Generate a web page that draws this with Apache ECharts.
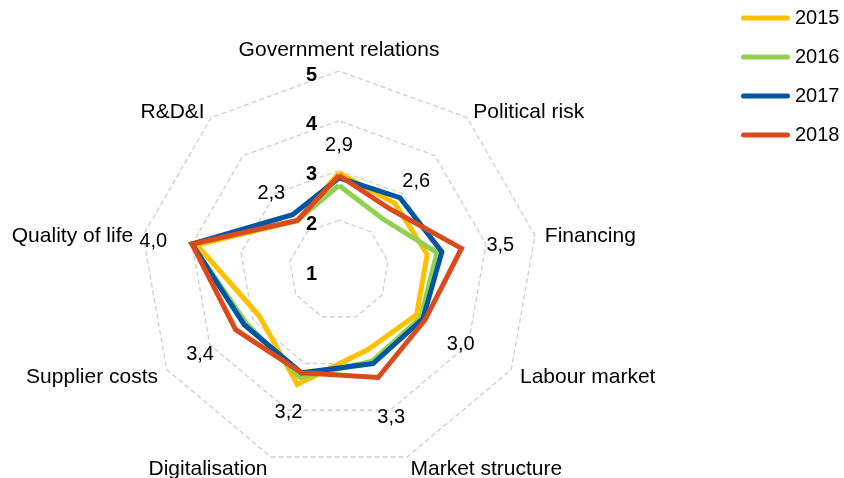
<!DOCTYPE html>
<html>
<head>
<meta charset="utf-8">
<style>
    html, body { margin: 0; padding: 0; background: #ffffff; }
    #chart { width: 844px; height: 478px; }
</style>
<script src="https://cdn.jsdelivr.net/npm/echarts@6/dist/echarts.min.js"></script>
</head>
<body>
<div id="chart"></div>
<script>
// categories listed clockwise from the top, as in the source chart
const indicators = [
    'Government relations', 'Political risk', 'Financing', 'Labour market', 'Market structure',
    'Digitalisation', 'Supplier costs', 'Quality of life', 'R&D&I',
];
const years = ['2015', '2016', '2017', '2018'];
const values2015 = [2.95, 2.75, 2.8, 2.8, 2.7, 3.45, 2.85, 3.9, 2.3];
const values2016 = [2.7, 2.35, 3.0, 2.9, 2.95, 3.3, 3.15, 4.0, 2.3];
const values2017 = [2.85, 2.9, 3.1, 2.95, 3.0, 3.2, 3.2, 4.0, 2.45];
const values2018 = [2.9, 2.6, 3.5, 3.0, 3.3, 3.2, 3.4, 4.0, 2.3];
const scaleMin = 1;
const scaleMax = 5;

const colors = ['#FFC000', '#92D050', '#0056A2', '#DB4A1B'];
const CENTER = [339, 270];
const LABEL_GAP = 24;
const FONT = '"Liberation Sans", Arial, sans-serif';
const capsule = 'path://M2.5,0 H46.5 A2.5,2.5 0 0 1 46.5,5 H2.5 A2.5,2.5 0 0 1 2.5,0 Z';

// echarts lays radar indicators out anticlockwise, so keep the first and reverse the rest
const clockwise = (arr) => [arr[0], ...arr.slice(1).reverse()];

const chart = echarts.init(document.getElementById('chart'), null, { renderer: 'canvas' });

// push each 2018 label outwards from the centre of the radar
function pushLabelOut(params) {
    const r = params.labelRect;
    const vx = r.x + r.width / 2 - CENTER[0];
    const vy = r.y + r.height / 2 - CENTER[1];
    const len = Math.hypot(vx, vy) || 1;
    const ux = vx / len;
    const uy = vy / len;
    const off = LABEL_GAP + Math.abs(ux) * r.width / 2 + Math.abs(uy) * r.height / 2;
    return { dx: ux * off, dy: uy * off + 4 };
}

const seriesValues = [values2015, values2016, values2017, values2018];

chart.setOption({
    animation: false,
    textStyle: { fontFamily: FONT },
    legend: {
        orient: 'vertical',
        left: 741,
        top: 8,
        padding: 0,
        itemWidth: 49,
        itemHeight: 5,
        itemGap: 19,
        icon: capsule,
        data: years,
        textStyle: { color: '#000', fontSize: 20, fontFamily: FONT },
    },
    radar: {
        center: CENTER,
        radius: 199,
        startAngle: 90,
        splitNumber: 4,
        shape: 'polygon',
        indicator: clockwise(indicators).map((name, i) => ({
            name,
            min: scaleMin,
            max: scaleMax,
            axisLabel: i === 0 ? {
                show: true,
                margin: 22,
                formatter: '{t|{value}}',
                rich: {
                    t: {
                        color: '#000',
                        fontSize: 20,
                        fontWeight: 'bold',
                        fontFamily: FONT,
                        padding: [8, 0, 0, 0],
                    },
                },
            } : { show: false },
        })),
        axisName: {
            color: '#000',
            fontSize: 21,
            fontFamily: FONT,
            formatter: '{n|{value}}',
            rich: {
                n: { color: '#000', fontSize: 21, fontFamily: FONT, padding: [5, 0, 0, 0] },
            },
        },
        nameGap: 10,
        axisLine: { show: false },
        axisTick: { show: false },
        axisLabel: { show: false },
        splitArea: { show: false },
        splitLine: {
            lineStyle: { color: '#cfcfcf', width: 1.3, type: [5, 3] },
        },
    },
    series: seriesValues.map((vals, i) => {
        const isLast = i === seriesValues.length - 1;
        return {
            type: 'radar',
            name: years[i],
            symbol: isLast ? 'circle' : 'none',
            symbolSize: 2,
            lineStyle: { width: 5, color: colors[i], join: 'miter' },
            itemStyle: { color: colors[i] },
            label: isLast ? {
                show: true,
                position: 'inside',
                color: '#000',
                fontSize: 20,
                fontFamily: FONT,
                formatter: (p) => Number(p.value).toFixed(1).replace('.', ','),
            } : { show: false },
            labelLayout: isLast ? pushLabelOut : undefined,
            emphasis: { disabled: true },
            data: [{ value: clockwise(vals), name: years[i] }],
        };
    }),
});
</script>
</body>
</html>
